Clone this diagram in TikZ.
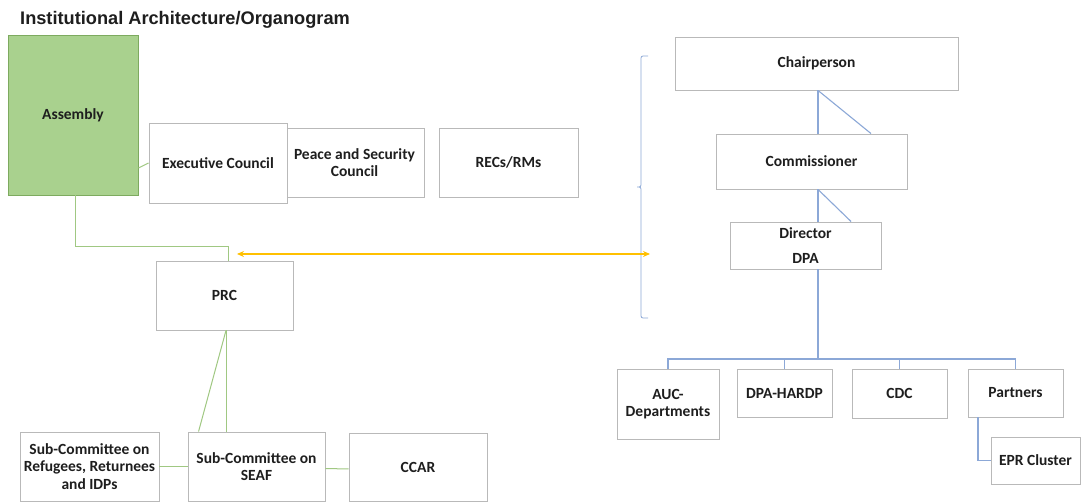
\documentclass[tikz,border=0pt]{standalone}
\usepackage{fontspec}
\setmainfont{Carlito}
\newfontfamily\titlefont{Liberation Sans}
\usetikzlibrary{arrows.meta,calc}
\definecolor{boxgray}{RGB}{185,185,185}
\definecolor{asmfill}{RGB}{169,209,142}
\definecolor{asmdraw}{RGB}{125,170,95}
\definecolor{gline}{RGB}{160,200,130}
\definecolor{bline}{RGB}{140,168,215}
\definecolor{yline}{RGB}{255,192,0}
\definecolor{txt}{RGB}{30,30,30}
\tikzset{
  orgbox/.style={draw=boxgray, line width=0.9pt, fill=white, inner sep=0pt, align=center,
    text=txt, font=\fontsize{15.5}{17.5}\selectfont\bfseries},
  greenline/.style={draw=gline, line width=1pt},
  blueline/.style={draw=bline, line width=1.1pt},
  yellowarrow/.style={draw=yline, line width=1.1pt, {Stealth[length=7pt,width=6pt]}-{Stealth[length=7pt,width=6pt]}}
}
\begin{document}
\begin{tikzpicture}[x=1pt,y=-1pt]
\useasboundingbox[fill=white] (0,0) rectangle (1082,502);

\node[anchor=base west, inner sep=0pt, text=txt, font=\titlefont\bfseries\fontsize{18.2}{21}\selectfont] (title) at (20,25) {Institutional Architecture/Organogram};

% left side
\node[orgbox, fill=asmfill, draw=asmdraw, minimum width=130pt, minimum height=160pt] (asm) at (73,115) {Assembly};
\node[orgbox, minimum width=139pt, minimum height=69pt] (psc) at (354.5,162.5) {Peace and Security\\Council};
\node[orgbox, minimum width=138pt, minimum height=80pt] (exec) at (218,163) {Executive Council};
\node[orgbox, minimum width=139pt, minimum height=69pt] (recs) at (508.5,162.5) {RECs/RMs};
\node[orgbox, minimum width=137pt, minimum height=69pt] (prc) at (224.5,295.5) {PRC};
\node[orgbox, minimum width=139pt, minimum height=69pt] (ref) at (89.5,466.5) {Sub-Committee on\\Refugees, Returnees\\and IDPs};
\node[orgbox, minimum width=137pt, minimum height=69pt] (seaf) at (256.5,466.5) {Sub-Committee on\\SEAF};
\node[orgbox, minimum width=138pt, minimum height=68pt] (ccar) at (418,467) {CCAR};

% right side
\node[orgbox, minimum width=283pt, minimum height=53pt] (chair) at (816.5,63.5) {Chairperson};
\node[orgbox, minimum width=191pt, minimum height=55pt] (comm) at (811.5,161.5) {Commissioner};
\node[orgbox, minimum width=151pt, minimum height=47pt] (dir) at (805.5,245.5) {Director\\[8pt]DPA};
\node[orgbox, minimum width=102pt, minimum height=70pt] (auc) at (668,404) {AUC-\\Departments};
\node[orgbox, minimum width=95pt, minimum height=48pt] (hardp) at (784.5,393) {DPA-HARDP};
\node[orgbox, minimum width=95pt, minimum height=49pt] (cdc) at (899.5,393.5) {CDC};
\node[orgbox, minimum width=95pt, minimum height=48pt] (partners) at (1015.5,393) {Partners};
\node[orgbox, minimum width=89pt, minimum height=47pt] (epr) at (1035.5,460.5) {EPR Cluster};

% green connectors
\coordinate (g1) at (228,247);
\draw[greenline] ([xshift=2pt]asm.south) |- (g1) -- (g1 |- prc.north);
\draw[greenline] ([yshift=-53pt]asm.east) -- (exec.west);
\draw[greenline] ([xshift=1.5pt]prc.south) -- ([xshift=1.5pt]prc.south |- seaf.north);
\draw[greenline] ([xshift=1.5pt]prc.south) -- ([xshift=11pt]seaf.north west);
\draw[greenline] (ref.east) -- (seaf.west);
\draw[greenline] ([yshift=-2pt]seaf.east) -- ([yshift=-2pt]ccar.west);

% blue connectors
\coordinate (bus) at (818,359);
\draw[blueline] (chair.south -| bus) -- (comm.north -| bus);
\draw[blueline] (comm.south -| bus) -- (dir.north -| bus);
\draw[blueline] (dir.south -| bus) -- (bus);
\draw[blueline] (chair.south -| bus) -- ($(comm.north west)!0.81!(comm.north east)$);
\draw[blueline] (comm.south -| bus) -- ($(dir.north west)!0.80!(dir.north east)$);
\draw[blueline] (auc.north) |- (bus) -| (partners.north);
\draw[blueline] (bus -| hardp.north) -- (hardp.north);
\draw[blueline] (bus -| cdc.north) -- (cdc.north);
\draw[blueline] ([xshift=-37.5pt]partners.south) |- (epr.west);

% brace
\coordinate (brtop) at (648,56);
\coordinate (brbot) at (648,318);
\coordinate (brtip) at (636,187);
\draw[blueline, line width=0.8pt, rounded corners=2pt] (brtop) -- ++(-7,0) -- ++(0,131) -- (brtip) -- ++(5,0) -- ++(0,131) -- (brbot);

% yellow arrow
\coordinate (yl) at (237,254);
\coordinate (yr) at (650,254);
\draw[yellowarrow] (yl) -- (yr);
\end{tikzpicture}
\end{document}
